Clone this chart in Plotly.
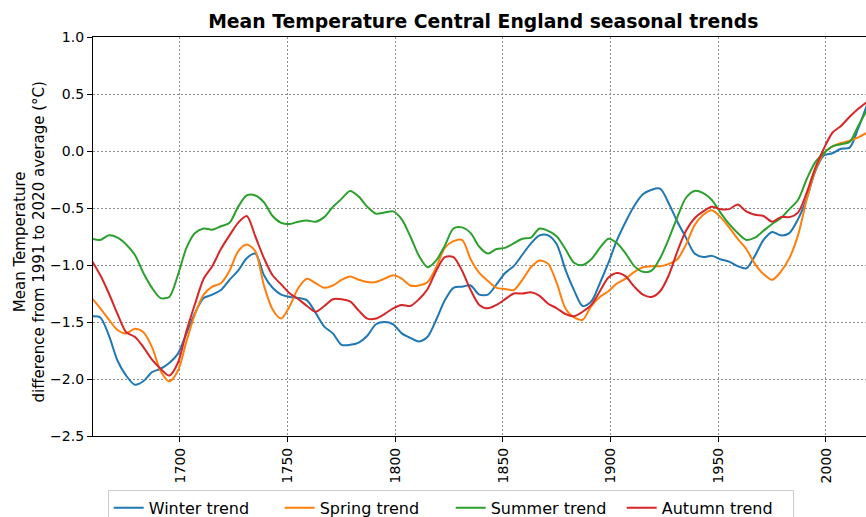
import plotly.graph_objects as pgo

# CET seasonal trend values, read every 4 years
years = list(range(1659, 2020, 4))

winter = [-1.45, -1.46, -1.62, -1.84, -1.97, -2.05, -2.02, -1.94, -1.91, -1.86,
          -1.78, -1.60, -1.42, -1.29, -1.26, -1.22, -1.13, -1.05, -0.94, -0.90,
          -1.09, -1.20, -1.26, -1.28, -1.29, -1.31, -1.42, -1.54, -1.60, -1.70,
          -1.70, -1.68, -1.62, -1.52, -1.50, -1.52, -1.60, -1.64, -1.67, -1.63,
          -1.48, -1.31, -1.20, -1.19, -1.18, -1.26, -1.26, -1.17, -1.07, -1.01,
          -0.91, -0.81, -0.74, -0.74, -0.82, -1.04, -1.22, -1.36, -1.32, -1.16,
          -0.98, -0.78, -0.62, -0.48, -0.38, -0.34, -0.33, -0.46, -0.62, -0.76,
          -0.90, -0.93, -0.92, -0.95, -0.97, -1.01, -1.03, -0.92, -0.78, -0.71,
          -0.74, -0.72, -0.60, -0.42, -0.18, -0.04, -0.02, 0.02, 0.03, 0.20,
          0.40]

spring = [-1.29, -1.38, -1.48, -1.57, -1.60, -1.56, -1.59, -1.72, -1.93, -2.02,
          -1.93, -1.67, -1.43, -1.26, -1.19, -1.16, -1.05, -0.88, -0.82, -0.88,
          -1.18, -1.39, -1.47, -1.36, -1.20, -1.12, -1.16, -1.20, -1.18, -1.13,
          -1.10, -1.13, -1.15, -1.15, -1.12, -1.09, -1.12, -1.18, -1.18, -1.15,
          -1.02, -0.85, -0.79, -0.78, -0.95, -1.07, -1.14, -1.20, -1.21, -1.22,
          -1.13, -1.02, -0.96, -0.99, -1.16, -1.38, -1.46, -1.48, -1.36, -1.28,
          -1.23, -1.16, -1.12, -1.06, -1.02, -1.01, -1.01, -0.99, -0.95, -0.82,
          -0.65, -0.56, -0.52, -0.58, -0.67, -0.77, -0.86, -0.99, -1.08, -1.13,
          -1.06, -0.94, -0.74, -0.43, -0.17, -0.02, 0.04, 0.07, 0.09, 0.12,
          0.16]

summer = [-0.77, -0.78, -0.74, -0.76, -0.82, -0.91, -1.07, -1.20, -1.29, -1.28,
          -1.09, -0.85, -0.72, -0.68, -0.69, -0.66, -0.63, -0.49, -0.39, -0.39,
          -0.45, -0.57, -0.63, -0.64, -0.62, -0.61, -0.62, -0.58, -0.49, -0.42,
          -0.35, -0.40, -0.49, -0.55, -0.54, -0.53, -0.60, -0.75, -0.92, -1.02,
          -0.96, -0.83, -0.68, -0.67, -0.72, -0.84, -0.90, -0.86, -0.85, -0.81,
          -0.77, -0.76, -0.68, -0.70, -0.75, -0.86, -0.98, -1.00, -0.95, -0.85,
          -0.77, -0.81, -0.90, -1.01, -1.06, -1.05, -0.94, -0.77, -0.58, -0.41,
          -0.35, -0.37, -0.43, -0.54, -0.64, -0.72, -0.78, -0.76, -0.70, -0.64,
          -0.59, -0.51, -0.43, -0.25, -0.10, -0.02, 0.04, 0.06, 0.08, 0.22,
          0.36]

autumn = [-0.96, -1.09, -1.25, -1.43, -1.59, -1.63, -1.72, -1.83, -1.91, -1.97,
          -1.86, -1.58, -1.34, -1.12, -1.01, -0.86, -0.74, -0.63, -0.57, -0.75,
          -0.94, -1.09, -1.17, -1.25, -1.30, -1.36, -1.41, -1.36, -1.30, -1.30,
          -1.32, -1.40, -1.47, -1.47, -1.43, -1.38, -1.35, -1.36, -1.30, -1.21,
          -1.05, -0.93, -0.93, -1.05, -1.22, -1.35, -1.38, -1.35, -1.30, -1.25,
          -1.25, -1.24, -1.27, -1.34, -1.38, -1.43, -1.45, -1.41, -1.35, -1.23,
          -1.11, -1.07, -1.10, -1.19, -1.26, -1.28, -1.23, -1.09, -0.88, -0.70,
          -0.59, -0.53, -0.49, -0.51, -0.51, -0.47, -0.53, -0.56, -0.57, -0.62,
          -0.58, -0.58, -0.54, -0.37, -0.15, 0.02, 0.16, 0.22, 0.30, 0.37,
          0.43]

series_names = ['Winter trend', 'Spring trend', 'Summer trend', 'Autumn trend']
series_colors = ['#1f77b4', '#ff7f0e', '#2ca02c', '#d62728']

x_ticks = [1700, 1750, 1800, 1850, 1900, 1950, 2000]
y_ticks = [1.0, 0.5, 0.0, -0.5, -1.0, -1.5, -2.0, -2.5]
y_ticktext = ['1.0', '0.5', '0.0', '\u22120.5', '\u22121.0', '\u22121.5', '\u22122.0', '\u22122.5']

# ------------------------------------------------------------------------------------ #

fig = pgo.Figure()

for name, vals, col in zip(series_names, [winter, spring, summer, autumn], series_colors):
    fig.add_trace(pgo.Scatter(x=years, y=vals, name=name, mode='lines',
                              line=dict(color=col, width=2, shape='spline', smoothing=0.8)))

axis_font = dict(family='DejaVu Sans', size=14, color='black')
grid_style = dict(showgrid=True, gridcolor='#8c8c8c', griddash='1.5px,2.5px', gridwidth=1)

fig.update_layout(
    width=866, height=517,
    margin=dict(l=93, r=0, t=37, b=81, autoexpand=False),
    paper_bgcolor='white', plot_bgcolor='white',
    font=dict(family='DejaVu Sans', color='black'),
    title=dict(text='<b>Mean Temperature Central England seasonal trends</b>',
               font=dict(family='DejaVu Sans', size=18.8, color='black'),
               x=0.558, xref='container', xanchor='center',
               y=0.958, yref='container', yanchor='middle'),
    showlegend=True,
    legend=dict(orientation='h', x=0.019, xanchor='left', y=-0.135, yanchor='top',
                entrywidth=126, entrywidthmode='pixels',
                font=dict(family='DejaVu Sans', size=16, color='black'),
                bordercolor='#cccccc', borderwidth=1, bgcolor='white'),
    xaxis=dict(range=[1659.6, 2018.6], tickvals=x_ticks, tickangle=-90,
               tickfont=axis_font, ticks='outside', ticklen=5, tickcolor='black',
               showline=True, linecolor='black', linewidth=1.3, mirror=True,
               zeroline=False, **grid_style),
    yaxis=dict(range=[-2.5, 1.0], tickvals=y_ticks, ticktext=y_ticktext,
               tickfont=axis_font, ticks='outside', ticklen=5, tickcolor='black',
               showline=True, linecolor='black', linewidth=1.3,
               zeroline=False, **grid_style),
    annotations=[dict(text='Mean Temperature<br>difference from 1991 to 2020 average (\u00b0C)',
                      textangle=-90, xref='paper', yref='paper', x=0, y=0.485,
                      xanchor='center', yanchor='middle', xshift=-63, showarrow=False,
                      font=dict(family='DejaVu Sans', size=15, color='black'))],
)

# drop the default 8px page margin so the figure fills the window exactly
fig.write_html("out.html", config={'displayModeBar': False},
               post_script="document.body.style.margin = '0';")
